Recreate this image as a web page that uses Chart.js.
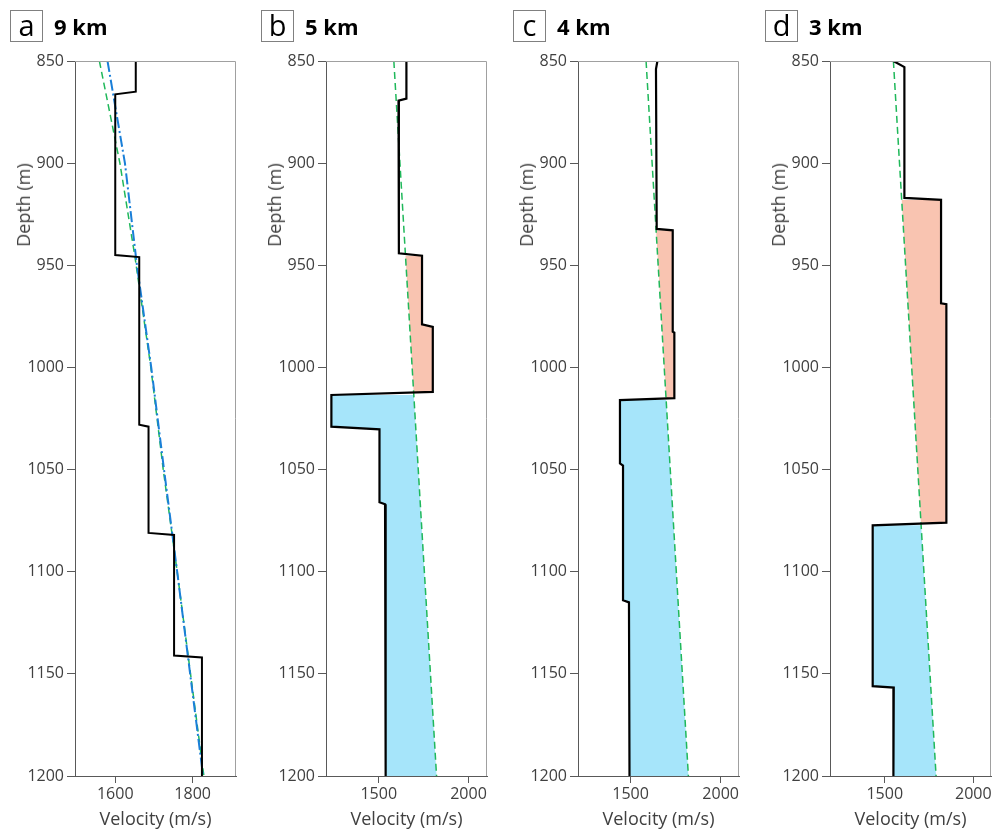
<!DOCTYPE html>
<html>
<head>
<meta charset="utf-8">
<script src="https://cdn.jsdelivr.net/npm/chart.js@4.4.0/dist/chart.umd.min.js"></script>
<style>
  html, body { margin: 0; padding: 0; background: #fff; }
  body { width: 998px; height: 831px; position: relative; overflow: hidden; font-family: 'Open Sans', sans-serif; }
  .panel { position: absolute; top: 0; width: 243px; height: 831px; }
  .panel canvas { position: absolute; left: 0; top: 0; }
  .tag { position: absolute; left: 10px; top: 10px; width: 31px; height: 30px; border: 1px solid #808080;
         font-size: 29px; line-height: 28px; text-align: center; color: #000; }
  .dist { position: absolute; left: 54px; top: 11px; font-size: 22px; font-weight: bold; color: #000; }
  .ytitle { position: absolute; left: 23px; top: 205px; transform: translate(-50%, -50%) rotate(-90deg);
            font-size: 18px; color: #404040; white-space: nowrap; }
</style>
</head>
<body>
<div class="panel" id="pa" style="left:0px"><canvas id="ca" width="243" height="831"></canvas></div>
<div class="panel" id="pb" style="left:251px"><canvas id="cb" width="243" height="831"></canvas></div>
<div class="panel" id="pc" style="left:503px"><canvas id="cc" width="243" height="831"></canvas></div>
<div class="panel" id="pd" style="left:755px"><canvas id="cd" width="243" height="831"></canvas></div>
<script>
const depthTicks = [850, 900, 950, 1000, 1050, 1100, 1150, 1200]
const depthRange = [850, 1200]

// a - 9 km
const velTicksA = [1600, 1800]
const velRangeA = [1496, 1912]
const depthA = [850, 865, 866.3, 945, 946, 1028, 1029, 1081, 1082, 1141, 1142, 1200]
const velA = [1653, 1653, 1600, 1600, 1662, 1662, 1686, 1686, 1752, 1752, 1824, 1824]
const trendDepthA = [850, 900, 946, 1000, 1050, 1100, 1200]
const trendVelA = [1559, 1612, 1651, 1692, 1724, 1760, 1829]
const fitDepthA = [850, 900, 950, 1000, 1050, 1100, 1200]
const fitVelA = [1580, 1625, 1656, 1693, 1726, 1760, 1827]

// b - 5 km
const velTicksB = [1500, 2000]
const velRangeB = [1206, 2103]
const depthB = [850, 868.4, 869.4, 944.1, 945.3, 978.9, 980.2, 1012, 1013.5, 1029, 1030.3, 1066, 1067, 1140, 1141, 1200]
const velB = [1654, 1654, 1610, 1612, 1741, 1741, 1801, 1801, 1236, 1236, 1504, 1504, 1535, 1535, 1540, 1540]
const trendDepthB = [850, 1200]
const trendVelB = [1584, 1822]
const highZoneB = [945.3, 1012]
const lowZoneB = [1013.5, 1200]

// c - 4 km
const velTicksC = [1500, 2000]
const velRangeC = [1208, 2102]
const depthC = [850, 854, 932.2, 932.9, 982.5, 983, 1015, 1016, 1047, 1048, 1114, 1115, 1200]
const velC = [1649, 1641, 1645, 1734, 1734, 1743, 1743, 1441, 1441, 1458, 1458, 1491, 1494]
const trendDepthC = [850, 1200]
const trendVelC = [1586, 1821]
const highZoneC = [932.9, 1015]
const lowZoneC = [1016, 1200]

// d - 3 km
const velTicksD = [1500, 2000]
const velRangeD = [1191, 2100]
const depthD = [850, 853, 917, 918, 968.6, 969, 1076, 1077.3, 1156, 1156.7, 1200]
const velD = [1549, 1611, 1611, 1818, 1818, 1848, 1848, 1432, 1432, 1551, 1549]
const trendDepthD = [850, 1200]
const trendVelD = [1549, 1790]
const highZoneD = [918, 1076]
const lowZoneD = [1077.3, 1200]

const panelLetters = ['a', 'b', 'c', 'd']
const panelDistances = ['9 km', '5 km', '4 km', '3 km']

Chart.defaults.font.family = "'Open Sans', sans-serif"
Chart.defaults.font.size = 16
Chart.defaults.color = '#404040'

const toPoints = (depths, vels) => depths.map((d, i) => ({x: vels[i], y: d}))

function trendAt(tDepth, tVel, d) {
    for (let i = 0; i < tDepth.length - 1; i++) {
        if (d >= tDepth[i] && d <= tDepth[i + 1]) {
            const f = (d - tDepth[i]) / (tDepth[i + 1] - tDepth[i])
            return tVel[i] + f * (tVel[i + 1] - tVel[i])
        }
    }
    return tVel[tVel.length - 1]
}

// polygon between the profile and the trend inside one depth zone
function zoneShape(depths, vels, tDepth, tVel, zone) {
    const pts = []
    depths.forEach((d, i) => {
        if (d >= zone[0] && d <= zone[1]) pts.push({x: vels[i], y: d})
    })
    pts.push({x: trendAt(tDepth, tVel, zone[1]), y: zone[1]})
    pts.push({x: trendAt(tDepth, tVel, zone[0]), y: zone[0]})
    return pts
}

// light top/right frame lines
const frame = {
    id: 'frame',
    afterDraw(chart) {
        const {ctx, chartArea: a} = chart
        ctx.save()
        ctx.strokeStyle = '#a0a0a0'
        ctx.lineWidth = 1
        ctx.beginPath()
        ctx.moveTo(a.left, a.top + 0.5)
        ctx.lineTo(a.right - 0.5, a.top + 0.5)
        ctx.lineTo(a.right - 0.5, a.bottom)
        ctx.stroke()
        ctx.restore()
    }
}

function lineSet(points, color, width, dash) {
    return {
        data: points,
        borderColor: color,
        borderWidth: width,
        borderDash: dash || [],
        pointRadius: 0,
        fill: false,
        tension: 0
    }
}

function fillSet(points, color) {
    return {
        data: points,
        borderWidth: 0,
        borderColor: 'rgba(0,0,0,0)',
        backgroundColor: color,
        pointRadius: 0,
        fill: 'shape',
        tension: 0
    }
}

function makePanel(canvasId, datasets, velRange, velTicks) {
    return new Chart(document.getElementById(canvasId), {
        type: 'line',
        data: {datasets},
        plugins: [frame],
        options: {
            responsive: false,
            animation: false,
            devicePixelRatio: 1,
            layout: {padding: {left: 0, top: 61, right: 7, bottom: 0}},
            plugins: {legend: {display: false}, tooltip: {enabled: false}},
            scales: {
                x: {
                    type: 'linear',
                    min: velRange[0],
                    max: velRange[1],
                    afterBuildTicks: s => { s.ticks = velTicks.map(v => ({value: v})) },
                    afterFit: s => { s.height = 55 },
                    grid: {drawOnChartArea: false, tickLength: 7, color: '#595959'},
                    border: {color: '#595959'},
                    ticks: {padding: 2, color: '#404040', callback: v => String(v)},
                    title: {display: true, text: 'Velocity (m/s)', color: '#404040', font: {size: 18},
                            padding: {top: 0, bottom: 0}}
                },
                y: {
                    type: 'linear',
                    reverse: true,
                    min: depthRange[0],
                    max: depthRange[1],
                    afterBuildTicks: s => { s.ticks = depthTicks.map(v => ({value: v})) },
                    afterFit: s => { s.width = 75 },
                    grid: {drawOnChartArea: false, tickLength: 8, color: '#595959'},
                    border: {color: '#595959'},
                    ticks: {padding: 3, color: '#404040', callback: v => String(v)}
                }
            }
        }
    })
}

const salmon = '#f9c4b1'
const skyBlue = '#a6e5fa'
const black = '#000000'
const green = '#1fb85a'
const blue = '#1a7fd8'

makePanel('ca', [
    lineSet(toPoints(depthA, velA), black, 2),
    lineSet(toPoints(fitDepthA, fitVelA), blue, 2, [11, 3, 2, 3]),
    lineSet(toPoints(trendDepthA, trendVelA), green, 1.5, [7, 4])
], velRangeA, velTicksA)

makePanel('cb', [
    lineSet(toPoints(depthB, velB), black, 2.2),
    lineSet(toPoints(trendDepthB, trendVelB), green, 1.5, [7, 4]),
    fillSet(zoneShape(depthB, velB, trendDepthB, trendVelB, highZoneB), salmon),
    fillSet(zoneShape(depthB, velB, trendDepthB, trendVelB, lowZoneB), skyBlue)
], velRangeB, velTicksB)

makePanel('cc', [
    lineSet(toPoints(depthC, velC), black, 2.2),
    lineSet(toPoints(trendDepthC, trendVelC), green, 1.5, [7, 4]),
    fillSet(zoneShape(depthC, velC, trendDepthC, trendVelC, highZoneC), salmon),
    fillSet(zoneShape(depthC, velC, trendDepthC, trendVelC, lowZoneC), skyBlue)
], velRangeC, velTicksC)

makePanel('cd', [
    lineSet(toPoints(depthD, velD), black, 2.2),
    lineSet(toPoints(trendDepthD, trendVelD), green, 1.5, [7, 4]),
    fillSet(zoneShape(depthD, velD, trendDepthD, trendVelD, highZoneD), salmon),
    fillSet(zoneShape(depthD, velD, trendDepthD, trendVelD, lowZoneD), skyBlue)
], velRangeD, velTicksD)

// panel tags, titles and depth labels as html text
;['pa', 'pb', 'pc', 'pd'].forEach((id, i) => {
    const p = document.getElementById(id)
    const tag = document.createElement('div')
    tag.className = 'tag'
    tag.textContent = panelLetters[i]
    p.appendChild(tag)
    const dist = document.createElement('div')
    dist.className = 'dist'
    dist.textContent = panelDistances[i]
    p.appendChild(dist)
    const yt = document.createElement('div')
    yt.className = 'ytitle'
    yt.textContent = 'Depth (m)'
    p.appendChild(yt)
})
</script>
</body>
</html>
